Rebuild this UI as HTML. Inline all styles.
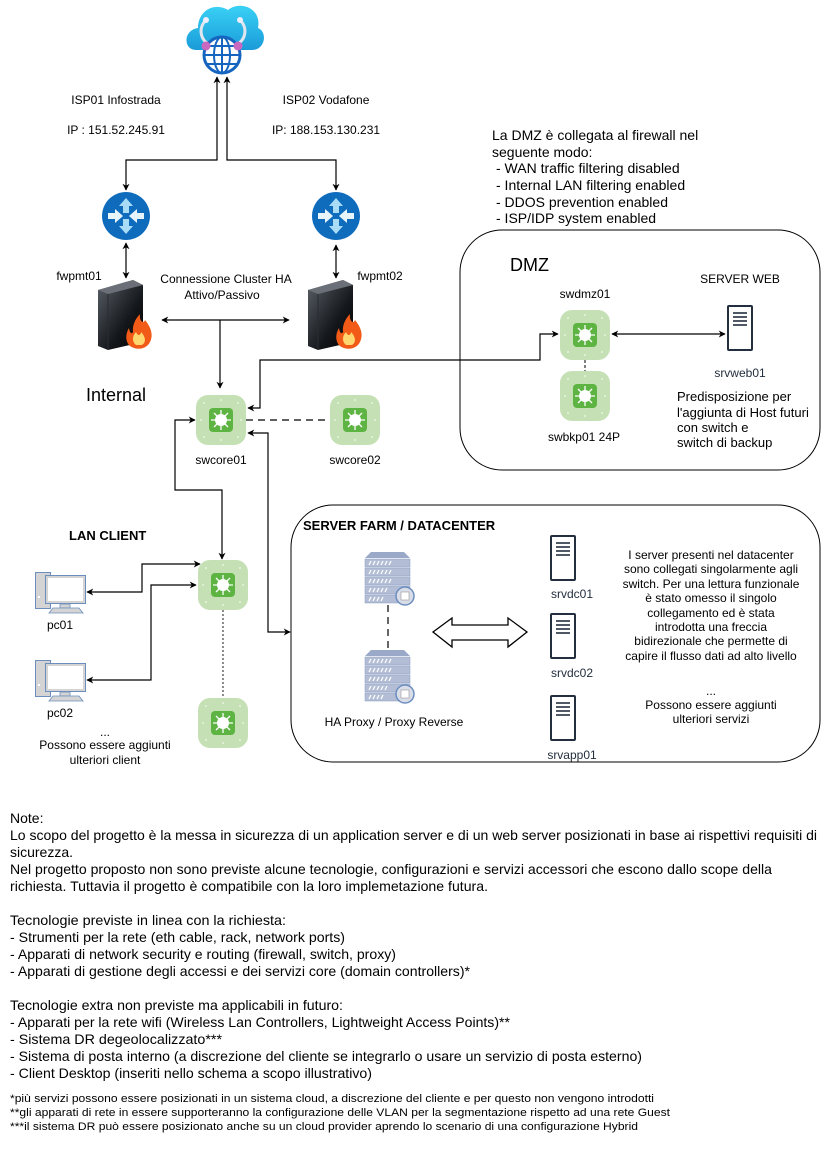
<!DOCTYPE html>
<html><head><meta charset="utf-8">
<style>
html,body{margin:0;padding:0;background:#fff;}
svg{display:block;font-family:"Liberation Sans",Arial,sans-serif;}
</style></head><body>
<svg width="821" height="1149" viewBox="0 0 821 1149" xmlns="http://www.w3.org/2000/svg">
<defs>
<marker id="ah" viewBox="0 0 10 10" refX="9" refY="5" markerWidth="7" markerHeight="7" orient="auto-start-reverse" markerUnits="userSpaceOnUse">
<path d="M0,0 L10,5 L0,10 L3,5 z" fill="#000"/></marker>
<linearGradient id="cl" x1="0" y1="0" x2="0" y2="1"><stop offset="0" stop-color="#3ad1f5"/><stop offset="1" stop-color="#1a9bd9"/></linearGradient>
<linearGradient id="fw" x1="0" y1="0" x2="1" y2="1"><stop offset="0" stop-color="#5a6068"/><stop offset="0.6" stop-color="#15181c"/><stop offset="1" stop-color="#000"/></linearGradient>
<g id="sw">
<rect x="0" y="0" width="50" height="50" rx="12" fill="#c5e0b4"/>
<rect x="13" y="13" width="24" height="24" rx="4" fill="#5db443"/>
<circle cx="25" cy="25" r="6" fill="#fff"/>
<g stroke="#fff" stroke-width="1.3"><line x1="25" y1="15" x2="25" y2="35"/><line x1="15" y1="25" x2="35" y2="25"/><line x1="18" y1="18" x2="32" y2="32"/><line x1="32" y1="18" x2="18" y2="32"/></g>
<g fill="#e8f3e0"><circle cx="8" cy="8" r="1"/><circle cx="42" cy="8" r="1"/><circle cx="8" cy="42" r="1"/><circle cx="42" cy="42" r="1"/><circle cx="25" cy="5" r="1"/><circle cx="25" cy="45" r="1"/><circle cx="5" cy="25" r="1"/><circle cx="45" cy="25" r="1"/></g>
</g>
<g id="srv">
<rect x="1" y="1" width="24" height="44" rx="1" fill="#fff" stroke="#232f3e" stroke-width="2"/>
<g stroke="#232f3e" stroke-width="1.6"><line x1="6" y1="8" x2="20" y2="8"/><line x1="6" y1="12" x2="20" y2="12"/><line x1="6" y1="16" x2="20" y2="16"/><line x1="6" y1="20" x2="20" y2="20"/></g>
</g>
<g id="rt">
<circle cx="24" cy="24" r="24" fill="#0f6cbd"/>
<g fill="#a8dcf7">
<path d="M24,6 L31,14 L27,14 L27,21 L21,21 L21,14 L17,14 z"/>
<path d="M24,42 L31,34 L27,34 L27,27 L21,27 L21,34 L17,34 z"/>
</g>
<g fill="#e8f4fb">
<path d="M21,24 L13,31 L13,27 L6,27 L6,21 L13,21 L13,17 z"/>
<path d="M27,24 L35,17 L35,21 L42,21 L42,27 L35,27 L35,31 z"/>
</g>
</g>
<g id="fwl">
<path d="M0,10 L35,0 L45,5 L45,62 L10,70 L0,66 z" fill="url(#fw)"/>
<path d="M0,10 L35,0 L45,5 L10,14 z" fill="#6b7078"/>
<path d="M10,14 L10,70" stroke="#2a2e33"/>
<path d="M36,68 C28,66 26,56 31,48 C32,54 34,54 35,52 C34,45 38,38 42,34 C41,42 46,44 47,40 C52,46 56,54 52,62 C49,68 42,70 36,68z" fill="#f25a17"/>
<path d="M38,65 C34,62 34,56 38,52 C40,57 43,55 43,52 C47,56 49,62 44,65z" fill="#ffd770"/>
</g>
<g id="pc">
<rect x="0.5" y="0.5" width="15" height="36" fill="#d4d4d4" stroke="#6c8ebf"/>
<rect x="10.5" y="3.5" width="40" height="28" fill="#d4d4d4" stroke="#6c8ebf"/>
<rect x="13" y="6" width="35" height="23" fill="#fff"/>
<rect x="25" y="32" width="10" height="4" fill="#d4d4d4" stroke="#6c8ebf" stroke-width="0.8"/>
<path d="M18,36 L44,36 L48,41 L14,41 z" fill="#d4d4d4" stroke="#6c8ebf" stroke-width="0.8"/>
<rect x="3" y="24" width="2" height="2" fill="#fff"/>
</g>
<g id="px">
<path d="M6,0 L39,0 L45,6 L0,6 z" fill="#9aa9c8"/>
<g fill="#b3bed6" stroke="#8a9bc0" stroke-width="0.5">
<rect x="0" y="7" width="45" height="8"/><rect x="0" y="16" width="45" height="8"/><rect x="0" y="25" width="45" height="8"/><rect x="0" y="34" width="45" height="8"/><rect x="0" y="43" width="45" height="8"/></g>
<g stroke="#fff" stroke-width="1.2"><path d="M4,13l2,-4M8,13l2,-4M12,13l2,-4M16,13l2,-4M20,13l2,-4M24,13l2,-4M4,22l2,-4M8,22l2,-4M12,22l2,-4M16,22l2,-4M20,22l2,-4M24,22l2,-4M4,31l2,-4M8,31l2,-4M12,31l2,-4M16,31l2,-4M20,31l2,-4M24,31l2,-4M4,40l2,-4M8,40l2,-4M12,40l2,-4M16,40l2,-4M20,40l2,-4M4,49l2,-4M8,49l2,-4M12,49l2,-4M16,49l2,-4"/></g>
<circle cx="40" cy="44" r="9" fill="#d8dde8" stroke="#6c8ebf" stroke-width="1.5"/>
<rect x="36" y="40" width="8" height="8" fill="#fff" stroke="#999" stroke-width="0.6"/>
</g>
</defs>

<!-- cloud -->
<g>
<path d="M196,50 C183,50 183,30 198,28 C198,10 215,2 228,10 C240,0 262,8 258,28 C268,32 265,50 252,50 z" fill="url(#cl)"/>
<path d="M206,20 C198,28 200,40 210,45 M240,20 C248,28 246,40 236,45" stroke="#dfe6ee" stroke-width="3" fill="none"/>
<circle cx="206" cy="20" r="3" fill="#eef"/><circle cx="240" cy="20" r="3" fill="#eef"/>
<circle cx="222" cy="55" r="18" fill="#fff" stroke="#1565c0" stroke-width="3"/>
<g stroke="#1565c0" stroke-width="2" fill="none"><ellipse cx="222" cy="55" rx="8" ry="18"/><line x1="222" y1="37" x2="222" y2="73"/><line x1="204" y1="55" x2="240" y2="55"/><line x1="207" y1="46" x2="237" y2="46"/><line x1="207" y1="64" x2="237" y2="64"/></g>
<circle cx="206" cy="46" r="4.5" fill="#c868c0"/><circle cx="238" cy="46" r="4.5" fill="#c868c0"/>
</g>

<g font-size="12" fill="#000">
<text x="116" y="104" text-anchor="middle">ISP01 Infostrada</text>
<text x="116" y="134" text-anchor="middle">IP : 151.52.245.91</text>
<text x="326" y="104" text-anchor="middle">ISP02 Vodafone</text>
<text x="326" y="134" text-anchor="middle">IP: 188.153.130.231</text>
<text x="79" y="280" text-anchor="middle">fwpmt01</text>
<text x="380" y="280" text-anchor="middle">fwpmt02</text>
<text x="226" y="283" text-anchor="middle">Connessione Cluster HA</text>
<text x="222" y="299" text-anchor="middle">Attivo/Passivo</text>
<text x="221" y="464" text-anchor="middle">swcore01</text>
<text x="355" y="464" text-anchor="middle">swcore02</text>
<text x="585" y="298" text-anchor="middle">swdmz01</text>
<text x="740" y="283" text-anchor="middle">SERVER WEB</text>
<text x="740" y="377" text-anchor="middle" fill="#232f3e">srvweb01</text>
<text x="584" y="441" text-anchor="middle">swbkp01 24P</text>
<text x="60" y="629" text-anchor="middle">pc01</text>
<text x="60" y="717" text-anchor="middle">pc02</text>
<text x="105" y="736" text-anchor="middle">...</text>
<text x="105" y="749" text-anchor="middle">Possono essere aggiunti</text>
<text x="105" y="764" text-anchor="middle">ulteriori client</text>
<text x="394" y="726" text-anchor="middle">HA Proxy / Proxy Reverse</text>
<text x="572" y="598" text-anchor="middle" fill="#232f3e">srvdc01</text>
<text x="572" y="677" text-anchor="middle" fill="#232f3e">srvdc02</text>
<text x="572" y="759" text-anchor="middle" fill="#232f3e">srvapp01</text>
</g>
<g font-size="12" text-anchor="middle">
<text x="711" y="559">I server presenti nel datacenter</text>
<text x="711" y="573">sono collegati singolarmente agli</text>
<text x="711" y="588">switch. Per una lettura funzionale</text>
<text x="711" y="602">è stato omesso il singolo</text>
<text x="711" y="617">collegamento ed è stata</text>
<text x="711" y="631">introdotta una freccia</text>
<text x="711" y="645">bidirezionale che permette di</text>
<text x="711" y="660">capire il flusso dati ad alto livello</text>
<text x="711" y="695">...</text>
<text x="711" y="709">Possono essere aggiunti</text>
<text x="711" y="723">ulteriori servizi</text>
</g>
<g font-size="13">
<text x="677" y="401">Predisposizione per</text>
<text x="677" y="417">l'aggiunta di Host futuri</text>
<text x="677" y="432">con switch e</text>
<text x="677" y="447">switch di backup</text>
</g>
<g font-size="14">
<text x="492" y="140">La DMZ è collegata al firewall nel</text>
<text x="492" y="157">seguente modo:</text>
<text x="496" y="173">- WAN traffic filtering disabled</text>
<text x="496" y="190">- Internal LAN filtering enabled</text>
<text x="496" y="207">- DDOS prevention enabled</text>
<text x="496" y="223">- ISP/IDP system enabled</text>
</g>
<text x="510" y="271" font-size="18">DMZ</text>
<text x="86" y="401" font-size="18">Internal</text>
<text x="69" y="540" font-size="13" font-weight="bold">LAN CLIENT</text>
<text x="303" y="530" font-size="13" font-weight="bold">SERVER FARM / DATACENTER</text>

<!-- containers -->
<rect x="460" y="230" width="360" height="240" rx="42" fill="none" stroke="#000" stroke-width="1"/>
<rect x="291" y="505" width="529" height="257" rx="42" fill="none" stroke="#000" stroke-width="1"/>

<!-- connectors -->
<g stroke="#000" stroke-width="1.2" fill="none">
<path d="M126,190 L126,160 L217,160 L217,77" marker-start="url(#ah)" marker-end="url(#ah)"/>
<path d="M336,190 L336,160 L227,160 L227,77" marker-start="url(#ah)" marker-end="url(#ah)"/>
<path d="M126,243 L126,278" marker-start="url(#ah)" marker-end="url(#ah)"/>
<path d="M336,245 L336,278" marker-start="url(#ah)" marker-end="url(#ah)"/>
<path d="M162,320 L289,320" marker-start="url(#ah)" marker-end="url(#ah)"/>
<path d="M220,320 L220,388" marker-end="url(#ah)"/>
<path d="M248,408 L260,408 L260,360 L540,360 L540,334 L558,334" marker-start="url(#ah)" marker-end="url(#ah)"/>
<path d="M612,334 L725,334" marker-start="url(#ah)" marker-end="url(#ah)"/>
<path d="M195,420 L175,420 L175,490 L222,490 L222,559" marker-start="url(#ah)" marker-end="url(#ah)"/>
<path d="M248,433 L268,433 L268,632 L290,632" marker-start="url(#ah)" marker-end="url(#ah)"/>
<path d="M87,592 L142,592 L142,564 L200,564" marker-start="url(#ah)" marker-end="url(#ah)"/>
<path d="M87,680 L151,680 L151,585 L196,585" marker-start="url(#ah)" marker-end="url(#ah)"/>
</g>
<line x1="246" y1="420" x2="330" y2="420" stroke="#000" stroke-width="1.2" stroke-dasharray="7,5"/>
<line x1="585" y1="360" x2="585" y2="371" stroke="#000" stroke-width="1" stroke-dasharray="3,2"/>
<line x1="223" y1="610" x2="223" y2="698" stroke="#666" stroke-width="1.5" stroke-dasharray="2,2"/>
<line x1="388" y1="605" x2="388" y2="650" stroke="#000" stroke-width="1.2" stroke-dasharray="7,5"/>
<path d="M433,632 L452,618 L452,625 L508,625 L508,618 L527,632 L508,647 L508,640 L452,640 L452,647 z" fill="#fff" stroke="#000" stroke-width="1.3"/>

<!-- nodes -->
<use href="#rt" x="102" y="192"/>
<use href="#rt" x="312" y="192"/>
<use href="#fwl" x="98" y="280"/>
<use href="#fwl" x="308" y="280"/>
<use href="#sw" x="196" y="395"/>
<use href="#sw" x="330" y="395"/>
<use href="#sw" x="560" y="310"/>
<use href="#sw" x="560" y="371"/>
<use href="#sw" x="198" y="560"/>
<use href="#sw" x="198" y="698"/>
<use href="#srv" x="727" y="305"/>
<use href="#srv" x="550" y="535"/>
<use href="#srv" x="550" y="613"/>
<use href="#srv" x="550" y="695"/>
<use href="#pc" x="35" y="572"/>
<use href="#pc" x="35" y="660"/>
<use href="#px" x="365" y="552"/>
<use href="#px" x="365" y="650"/>

<!-- notes -->
<g font-size="14" fill="#000" lengthAdjust="spacingAndGlyphs">
<text x="10" y="823">Note:</text>
<text x="10" y="840" textLength="807" lengthAdjust="spacingAndGlyphs">Lo scopo del progetto è la messa in sicurezza di un application server e di un web server posizionati in base ai rispettivi requisiti di</text>
<text x="10" y="857">sicurezza.</text>
<text x="10" y="874" textLength="762" lengthAdjust="spacingAndGlyphs">Nel progetto proposto non sono previste alcune tecnologie, configurazioni e servizi accessori che escono dallo scope della</text>
<text x="10" y="891" textLength="478" lengthAdjust="spacingAndGlyphs">richiesta. Tuttavia il progetto è compatibile con la loro implemetazione futura.</text>
<text x="10" y="925" textLength="276" lengthAdjust="spacingAndGlyphs">Tecnologie previste in linea con la richiesta:</text>
<text x="10" y="942" textLength="335" lengthAdjust="spacingAndGlyphs">- Strumenti per la rete (eth cable, rack, network ports)</text>
<text x="10" y="959" textLength="386" lengthAdjust="spacingAndGlyphs">- Apparati di network security e routing (firewall, switch, proxy)</text>
<text x="10" y="976" textLength="460" lengthAdjust="spacingAndGlyphs">- Apparati di gestione degli accessi e dei servizi core (domain controllers)*</text>
<text x="10" y="1010" textLength="333" lengthAdjust="spacingAndGlyphs">Tecnologie extra non previste ma applicabili in futuro:</text>
<text x="10" y="1027" textLength="500" lengthAdjust="spacingAndGlyphs">- Apparati per la rete wifi (Wireless Lan Controllers, Lightweight Access Points)**</text>
<text x="10" y="1044" textLength="212" lengthAdjust="spacingAndGlyphs">- Sistema DR degeolocalizzato***</text>
<text x="10" y="1061" textLength="632" lengthAdjust="spacingAndGlyphs">- Sistema di posta interno (a discrezione del cliente se integrarlo o usare un servizio di posta esterno)</text>
<text x="10" y="1078" textLength="362" lengthAdjust="spacingAndGlyphs">- Client Desktop (inseriti nello schema a scopo illustrativo)</text>
</g>
<g font-size="11" fill="#000">
<text x="10" y="1102" textLength="644" lengthAdjust="spacingAndGlyphs">*più servizi possono essere posizionati in un sistema cloud, a discrezione del cliente e per questo non vengono introdotti</text>
<text x="10" y="1116" textLength="660" lengthAdjust="spacingAndGlyphs">**gli apparati di rete in essere supporteranno la configurazione delle VLAN per la segmentazione rispetto ad una rete Guest</text>
<text x="10" y="1130" textLength="628" lengthAdjust="spacingAndGlyphs">***il sistema DR può essere posizionato anche su un cloud provider aprendo lo scenario di una configurazione Hybrid</text>
</g>
</svg>
</body></html>
